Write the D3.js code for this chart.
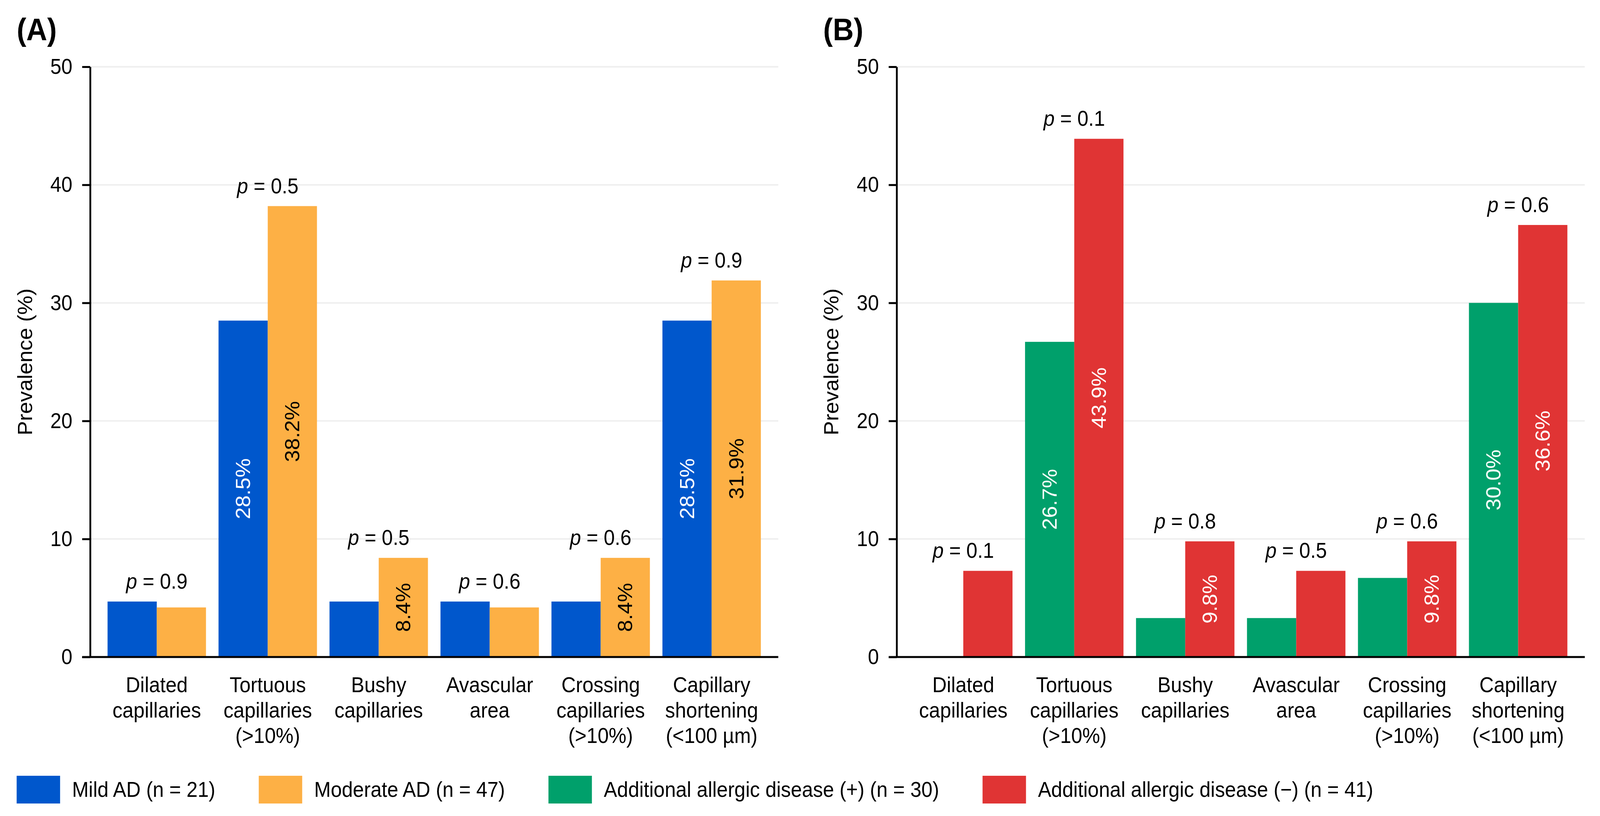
<!DOCTYPE html>
<html>
<head>
<meta charset="utf-8">
<script src="https://cdn.jsdelivr.net/npm/d3@7"></script>
<style>
  html, body { margin: 0; padding: 0; background: #fff; overflow: hidden; }
  svg { display: block; width: 100vw; height: 100vh; font-family: "Liberation Sans", Arial, sans-serif; }
</style>
</head>
<body>
<script>
// categories (x axis), one entry per line of the label
const categories = [
  ["Dilated", "capillaries"],
  ["Tortuous", "capillaries", "(>10%)"],
  ["Bushy", "capillaries"],
  ["Avascular", "area"],
  ["Crossing", "capillaries", "(>10%)"],
  ["Capillary", "shortening", "(<100 µm)"]
];

// panel A
const mildAD     = [4.7, 28.5, 4.7, 4.7, 4.7, 28.5];
const moderateAD = [4.2, 38.2, 8.4, 4.2, 8.4, 31.9];
const pValuesA   = ["0.9", "0.5", "0.5", "0.6", "0.6", "0.9"];

// panel B
const allergicYes = [0, 26.7, 3.3, 3.3, 6.7, 30.0];
const allergicNo  = [7.3, 43.9, 9.8, 7.3, 9.8, 36.6];
const pValuesB    = ["0.1", "0.1", "0.8", "0.5", "0.6", "0.6"];

const yTicks = [0, 10, 20, 30, 40, 50];
const legendLabels = [
  "Mild AD (n = 21)",
  "Moderate AD (n = 47)",
  "Additional allergic disease (+) (n = 30)",
  "Additional allergic disease (\u2212) (n = 41)"
];

const W = 4420, H = 2089;
const plotW = 1901;
const fontSize = 55;
const labelMin = 8; // bars smaller than this get no value label

const colors = {
  blue: "#0057cc", orange: "#fdb045", green: "#00a06b", red: "#e03434"
};
const legendColors = [colors.blue, colors.orange, colors.green, colors.red];

const panels = [
  { left: 249, tag: "(A)", series: [mildAD, moderateAD], p: pValuesA,
    fills: [colors.blue, colors.orange], ink: ["#fff", "#000"] },
  { left: 2477, tag: "(B)", series: [allergicYes, allergicNo], p: pValuesB,
    fills: [colors.green, colors.red], ink: ["#fff", "#fff"] }
];

// drawn in a 4420x2089 coordinate space, stretched onto the whole viewport
const svg = d3.select("body").append("svg")
  .attr("viewBox", `0 0 ${W} ${H}`)
  .attr("preserveAspectRatio", "none");

const y = d3.scaleLinear().domain([0, 50]).range([1682, 171]);

const x = d3.scaleBand()
  .domain(d3.range(categories.length))
  .range([0, plotW])
  .paddingInner(0.113)
  .paddingOuter(0.157);

const xSub = d3.scaleBand().domain([0, 1]).range([0, x.bandwidth()]);

panels.forEach(panel => {
  const g = svg.append("g").attr("transform", `translate(${panel.left},0)`);

  // gridlines
  g.selectAll(".grid")
    .data(yTicks.filter(t => t > 0))
    .enter().append("line")
    .attr("x1", 0).attr("x2", plotW)
    .attr("y1", d => y(d)).attr("y2", d => y(d))
    .attr("stroke", "#efefef").attr("stroke-width", 4);

  // bars
  panel.series.forEach((vals, s) => {
    g.selectAll(".bar" + s)
      .data(vals)
      .enter().append("rect")
      .attr("x", (d, i) => x(i) + xSub(s))
      .attr("y", d => y(d))
      .attr("width", xSub.bandwidth())
      .attr("height", d => y(0) - y(d))
      .attr("fill", panel.fills[s]);

    // value labels, rotated inside the bar
    g.selectAll(".val" + s)
      .data(vals.map((v, i) => ({ v, i })).filter(d => d.v >= labelMin))
      .enter().append("text")
      .attr("transform", d => `translate(${x(d.i) + xSub(s) + xSub.bandwidth() / 2},${(y(d.v) + y(0)) / 2}) rotate(-90)`)
      .attr("text-anchor", "middle")
      .attr("dominant-baseline", "central")
      .attr("font-size", fontSize)
      .attr("fill", panel.ink[s])
      .text(d => d.v.toFixed(1) + "%");
  });

  // p values above each group
  const pText = g.selectAll(".pval")
    .data(panel.p)
    .enter().append("text")
    .attr("x", (d, i) => x(i) + x.bandwidth() / 2)
    .attr("y", (d, i) => y(Math.max(panel.series[0][i], panel.series[1][i])) - 33)
    .attr("text-anchor", "middle")
    .attr("font-size", fontSize);
  pText.append("tspan").attr("font-style", "italic").text("p");
  pText.append("tspan").text(d => " = " + d);

  // y axis
  const yAxis = g.append("g")
    .call(d3.axisLeft(y).tickValues(yTicks).tickSize(22).tickSizeOuter(0).tickPadding(27));
  yAxis.select(".domain").attr("stroke", "#000").attr("stroke-width", 5);
  yAxis.selectAll(".tick line").attr("stroke", "#000").attr("stroke-width", 5);
  yAxis.selectAll(".tick text")
    .attr("font-size", fontSize)
    .attr("font-family", "Liberation Sans, Arial, sans-serif")
    .attr("fill", "#000");

  // x baseline
  g.append("line")
    .attr("x1", -22).attr("x2", plotW)
    .attr("y1", y(0)).attr("y2", y(0))
    .attr("stroke", "#000").attr("stroke-width", 5);

  // category labels
  const cat = g.selectAll(".cat")
    .data(categories)
    .enter().append("text")
    .attr("text-anchor", "middle")
    .attr("font-size", fontSize)
    .attr("fill", "#000");
  cat.selectAll("tspan")
    .data((d, i) => d.map(line => ({ line, i })))
    .enter().append("tspan")
    .attr("x", d => x(d.i) + x.bandwidth() / 2)
    .attr("y", (d, j) => 1772 + j * 65)
    .text(d => d.line);

  // y axis title
  g.append("text")
    .attr("transform", `translate(-161,${(y(0) + y(50)) / 2}) rotate(-90)`)
    .attr("text-anchor", "middle")
    .attr("font-size", fontSize)
    .text("Prevalence (%)");

  // panel tag
  g.append("text")
    .attr("x", -203).attr("y", 103)
    .attr("font-size", 80)
    .attr("font-weight", "bold")
    .text(panel.tag);
});

// legend, laid out left to right
let lx = 46;
legendLabels.forEach((label, i) => {
  svg.append("rect")
    .attr("x", lx).attr("y", 1986)
    .attr("width", 120).attr("height", 71)
    .attr("fill", legendColors[i]);
  const t = svg.append("text")
    .attr("x", lx + 153).attr("y", 2040)
    .attr("font-size", fontSize)
    .text(label);
  lx = lx + 153 + t.node().getComputedTextLength() + 120;
});
</script>
</body>
</html>
